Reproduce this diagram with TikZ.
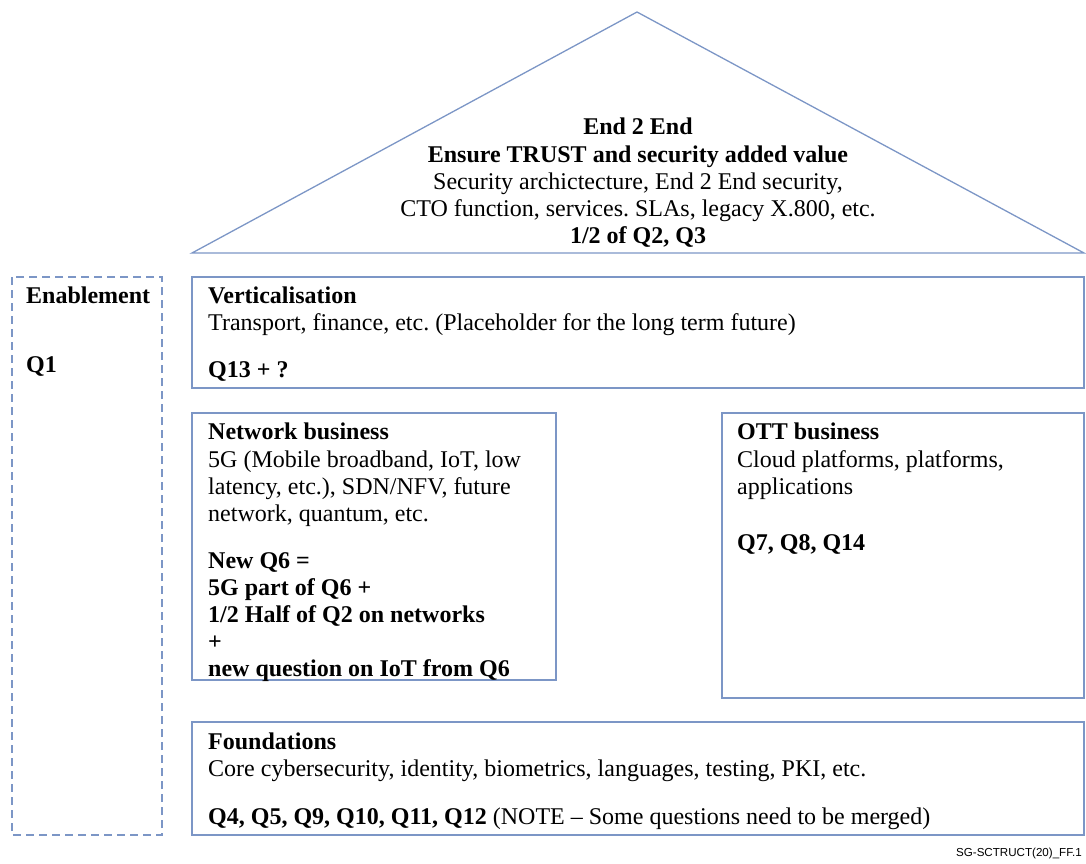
\documentclass[tikz,border=0pt]{standalone}
\usepackage{fontspec}
\setmainfont{Liberation Serif}
\newfontfamily\labelfont{Liberation Sans}
\definecolor{boxblue}{RGB}{124,150,198}
\frenchspacing
\begin{document}
\begin{tikzpicture}[x=1pt,y=-1pt,
  frame/.style={draw=boxblue,line width=1.3pt},
  txt/.style={inner sep=0pt,align=left,anchor=north west,font=\fontsize{24}{27.2}\selectfont},
  tighttxt/.style={txt,font=\fontsize{24}{26.5}\selectfont},
  ctxt/.style={inner sep=0pt,align=center,anchor=north,font=\fontsize{24}{27.2}\selectfont}]
\useasboundingbox (0,0) rectangle (1086,863);
% roof
\draw[frame] (637,12) coordinate (apex) -- (1084,253) coordinate (br) -- (192,253) coordinate (bl) -- cycle;
\node[ctxt] (roof) at (638,118) {\textbf{End 2 End}\\ \textbf{Ensure TRUST and security added value}\\ Security archictecture, End 2 End security,\\ CTO function, services. SLAs, legacy X.800, etc.\\ \textbf{1/2 of Q2, Q3}};
% enablement
\draw[frame,dash pattern=on 8pt off 5pt] (12,277) rectangle (162,835);
\node[txt] (enab) at (26,287) {\textbf{Enablement}};
\node[txt] (q1) at (26,356) {\textbf{Q1}};
% verticalisation
\draw[frame] (192,277) rectangle (1084,388);
\node[tighttxt] (vert) at (208,287) {\textbf{Verticalisation}\\ Transport, finance, etc. (Placeholder for the long term future)};
\node[txt] (vertq) at (208,361) {\textbf{Q13 + ?}};
% network
\draw[frame] (192,413) rectangle (556,680);
\node[txt] (net) at (208,423) {\textbf{Network business}\\ 5G (Mobile broadband, IoT, low\\ latency, etc.), SDN/NFV, future\\ network, quantum, etc.};
\node[txt] (netq) at (208,552) {\textbf{New Q6 =}\\ \textbf{5G part of Q6 +}\\ \textbf{1/2 Half of Q2 on networks}\\ \textbf{+}\\ \textbf{new question on IoT from Q6}};
% OTT
\draw[frame] (722,413) rectangle (1084,698);
\node[txt] (ott) at (737,423) {\textbf{OTT business}\\ Cloud platforms, platforms,\\ applications};
\node[txt] (ottq) at (737,534) {\textbf{Q7, Q8, Q14}};
% foundations
\draw[frame] (192,722) rectangle (1084,835);
\node[tighttxt] (found) at (208,733) {\textbf{Foundations}\\ Core cybersecurity, identity, biometrics, languages, testing, PKI, etc.};
\node[txt] (foundq) at (208,808) {\textbf{Q4, Q5, Q9, Q10, Q11, Q12} (NOTE -- Some questions need to be merged)};
% label
\node[inner sep=0pt,anchor=base east,font=\labelfont\fontsize{11.6}{14}\selectfont] (lbl) at (1082,856) {SG-SCTRUCT(20)\_FF.1};
\end{tikzpicture}
\end{document}
